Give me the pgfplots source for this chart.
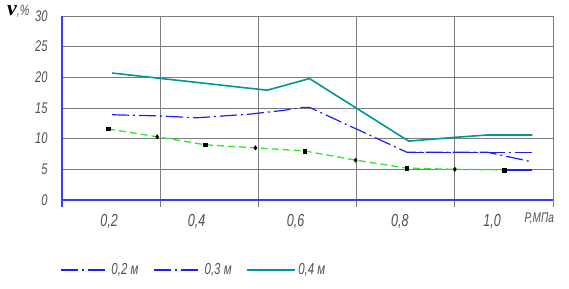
\documentclass[border=0pt]{standalone}
\usepackage{fontspec}
\usepackage{pgfplots}
\pgfplotsset{compat=1.18}
\newfontfamily\gost{Liberation Sans}[FakeStretch=0.72]
\newfontfamily\vser{Liberation Serif}
\definecolor{tealc}{RGB}{0,150,148}
\definecolor{bluec}{RGB}{30,30,250}
\definecolor{axblue}{RGB}{60,60,255}
\definecolor{greenc}{RGB}{40,235,40}
\definecolor{gridc}{RGB}{125,125,125}
\definecolor{txt}{RGB}{80,80,80}
\begin{document}
\begin{tikzpicture}
\path[use as bounding box] (0,0) rectangle (569bp,289bp);
\begin{axis}[
  at={(62bp,89bp)}, anchor=south west,
  scale only axis, width=491bp, height=184bp,
  xmin=0, xmax=5, ymin=0, ymax=30,
  axis x line=bottom, axis y line=left,
  axis line style={-, axblue, line width=1.1bp},
  y axis line style={shorten <=-7bp},
  xtick={1,2,3,4,5}, xticklabels={},
  ytick={0,5,...,30},
  xmajorgrids, ymajorgrids,
  grid style={gridc, line width=0.8bp},
  tick align=outside,
  major tick length=7bp,
  x tick style={gridc, line width=0.8bp},
  y tick style={draw=none},
  /pgf/number format/assume math mode=true,
  yticklabel style={font=\gost\itshape\fontsize{15.5}{15.5}\selectfont, text=txt, xshift=-4bp},
  extra x ticks={0.48,1.37,2.38,3.44,4.38},
  extra x tick labels={{0,2},{0,4},{0,6},{0,8},{1,0}},
  extra x tick style={grid=none, major tick length=0pt,
     tick label style={font=\gost\itshape\fontsize{17.5}{17.5}\selectfont, text=txt, yshift=-11bp}},
  clip=false,
  legend style={at={(-0.01,-0.38)}, anchor=west, draw=none, fill=none,
     font=\gost\itshape\fontsize{16}{16}\selectfont, text=txt,
     /tikz/every even column/.append style={column sep=13bp}},
  legend columns=3,
  legend image code/.code={\draw[#1] (0bp,0bp) -- (48bp,0bp);},
]
% green trend (dashed) with markers
\addplot[forget plot, greenc, line width=1.3bp, dash pattern=on 7bp off 4bp] coordinates {
 (0.47,11.6) (0.97,10.3) (1.46,9.0) (1.97,8.5) (2.47,8.0) (2.99,6.5) (3.51,5.2) (4.00,5.0) (4.50,4.9)};
\addplot[forget plot, only marks, mark=square*, mark size=1.8bp, black] coordinates {
 (0.47,11.6) (1.46,9.0) (2.47,8.0) (3.51,5.2) (4.50,4.9)};
\addplot[forget plot, only marks, mark=diamond*, mark size=2.2bp, black] coordinates {
 (0.97,10.3) (1.97,8.5) (2.99,6.5) (4.00,5.0)};
% blue solid end piece
\addplot[forget plot, bluec, line width=1.2bp] coordinates {(4.50,4.9) (4.79,4.9)};
% 0,2 m visible part
\addplot[forget plot, bluec, line width=1.2bp, dash pattern=on 17bp off 4bp on 2bp off 4bp] coordinates {
 (3.51,7.8) (4.79,7.8)};
% 0,3 m
\addplot[forget plot, bluec, line width=1.2bp, dash pattern=on 17bp off 4bp on 2bp off 4bp] coordinates {
 (0.51,13.9) (1.00,13.7) (1.37,13.4) (1.91,14.0) (2.25,14.6) (2.45,15.1) (2.52,15.1) (3.51,7.8) (4.33,7.8) (4.79,6.2)};
% 0,4 m
\addplot[forget plot, tealc, line width=1.6bp] coordinates {
 (0.51,20.7) (2.09,17.9) (2.52,19.8) (3.53,9.6) (3.99,10.2) (4.33,10.6) (4.79,10.6)};
\addlegendimage{bluec, line width=1.2bp, dash pattern=on 17bp off 4bp on 2bp off 4bp}
\addlegendentry{0,2 м}
\addlegendimage{bluec, line width=1.2bp, dash pattern=on 17bp off 4bp on 2bp off 4bp}
\addlegendentry{0,3 м}
\addlegendimage{tealc, line width=1.6bp}
\addlegendentry{0,4 м}
\node[font=\gost\itshape\fontsize{14}{14}\selectfont, text=txt, anchor=center] at (axis cs:4.86,-3.1) {P,МПа};
\end{axis}
\node[anchor=base west, inner sep=0pt] at (7bp,273bp) {\vser\bfseries\itshape\fontsize{22}{22}\selectfont v\gost\mdseries\fontsize{15}{15}\selectfont\color{txt},\%};
\end{tikzpicture}
\end{document}
